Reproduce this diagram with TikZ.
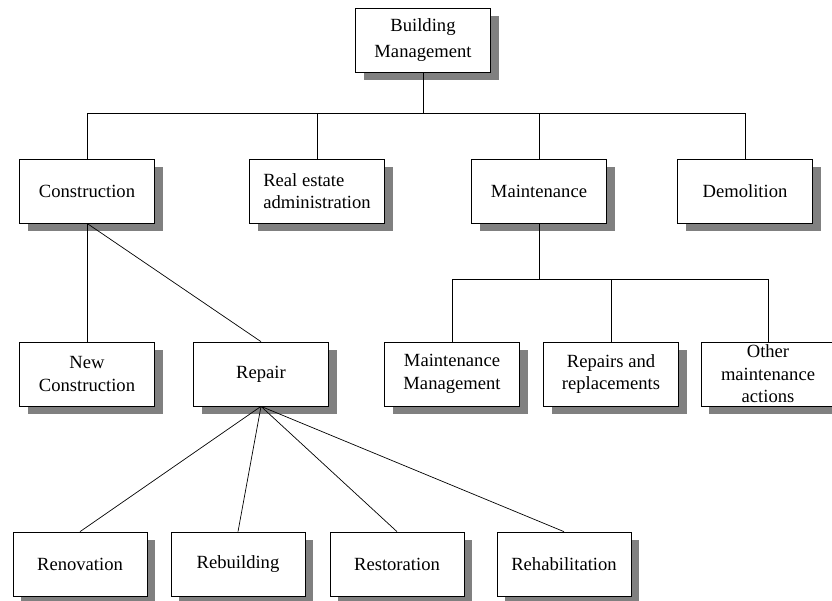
\documentclass[tikz,border=0pt]{standalone}
\usepackage{fontspec}
\setmainfont{Liberation Serif}
\usetikzlibrary{shadows}

\tikzset{
  orgbox/.style={draw=black, line width=0.7pt, fill=white,
    minimum width=135pt, minimum height=64pt, inner sep=2pt,
    align=center, font=\fontsize{18.6}{22.5}\selectfont,
    drop shadow={shadow xshift=8pt, shadow yshift=-8pt, fill=black!50, opacity=1}},
  leafbox/.style={orgbox, minimum width=134pt},
  link/.style={draw=black, line width=0.7pt}
}

\begin{document}
\begin{tikzpicture}[x=1pt, y=-1pt]
  \useasboundingbox (0,0) rectangle (832,600);

  % top of the hierarchy
  \node[orgbox, font=\fontsize{18.6}{26}\selectfont] (bm) at (423,40) {Building\\Management};

  % first level
  \node[orgbox] (con) at (87,191) {Construction};
  \node[orgbox, align=left] (rea) at (317,191) {Real estate\\administration};
  \node[orgbox] (mnt) at (539,191) {Maintenance};
  \node[orgbox] (dem) at (745,191) {Demolition};

  % second level
  \node[orgbox] (nc) at (87,374) {New\\Construction};
  \node[orgbox] (rep) at (261,374) {Repair};
  \node[orgbox] (mm) at (452,374) {Maintenance\\Management};
  \node[orgbox] (rr) at (611,374) {Repairs and\\replacements};
  \node[orgbox, minimum width=134pt] (oma) at (768,374) {Other\\maintenance\\actions};

  % kinds of repair
  \node[leafbox] (ren) at (80,564) {Renovation};
  \node[leafbox] (reb) at (238,564) {Rebuilding};
  \node[leafbox] (res) at (397,564) {Restoration};
  \node[leafbox] (reh) at (564,564) {Rehabilitation};

  % bus lines
  \coordinate (bus) at (0,113);
  \coordinate (bus2) at (0,279);

  \draw[link] (bm.south) -- (bm.south |- bus);
  \draw[link] (con.north) |- (dem.north |- bus) -- (dem.north);
  \draw[link] (rea.north) -- (rea.north |- bus);
  \draw[link] (mnt.north) -- (mnt.north |- bus);

  \draw[link] (mnt.south) -- (mnt.south |- bus2);
  \draw[link] (mm.north) |- (oma.north |- bus2) -- (oma.north);
  \draw[link] (rr.north) -- (rr.north |- bus2);

  % construction branches
  \draw[link] (con.south) -- (nc.north);
  \draw[link] (con.south) -- (rep.north);

  % repair fan
  \draw[link] (rep.south) -- (ren.north);
  \draw[link] (rep.south) -- (reb.north);
  \draw[link] (rep.south) -- (res.north);
  \draw[link] (rep.south) -- (reh.north);
\end{tikzpicture}
\end{document}
